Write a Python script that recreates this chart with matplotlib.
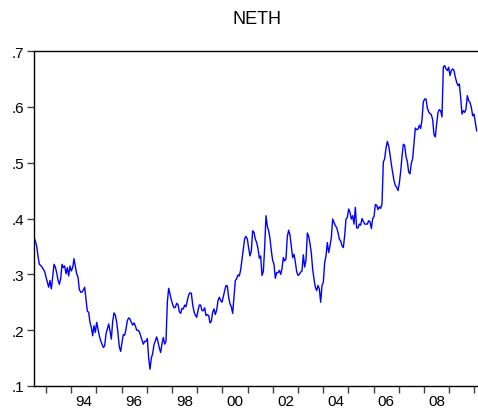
import numpy as np
import matplotlib
matplotlib.use("Agg")
import matplotlib.pyplot as plt
from matplotlib.ticker import FixedLocator, FixedFormatter

plt.rcParams['font.family'] = ['Liberation Sans', 'DejaVu Sans']

# NETH series, regular spacing (about 19 days) from mid-1992 to the end of 2009
neth = [
    # 1992 - 1994
    .366, .360, .351, .333, .318, .316, .313, .309, .305, .295, .286, .277,
    .289, .274, .295, .318, .313, .303, .290, .282, .292, .318, .312, .315,
    .301, .312, .297, .315, .306, .312, .328, .315, .301, .295, .273, .268,
    .268, .272, .277, .256, .234, .232,
    # 1994 - 1996
    .214, .205, .190, .208, .196, .214, .202, .190, .181, .175, .169, .172,
    .193, .202, .211, .199, .184, .215, .231, .227, .215, .194, .170, .162,
    .178, .192, .191, .202, .217, .222, .220, .214, .209, .213, .208, .200,
    .200, .197, .190, .182, .175, .180,
    # 1996 - 1999
    .180, .185, .150, .130, .150, .158, .174, .181, .188, .179, .168, .160,
    .176, .187, .175, .180, .250, .275, .265, .254, .246, .240, .241, .248,
    .246, .233, .230, .239, .238, .245, .242, .253, .263, .267, .266, .246,
    .233, .227, .223, .235, .245, .245,
    # 1999 - 2001
    .235, .235, .240, .226, .228, .226, .213, .216, .232, .238, .228, .236,
    .253, .259, .253, .250, .260, .271, .280, .279, .259, .247, .242, .230,
    .260, .289, .292, .299, .297, .308, .327, .347, .364, .368, .363, .347,
    .333, .342, .378, .375, .363, .357,
    # 2001 - 2003
    .346, .329, .333, .298, .305, .348, .405, .386, .378, .364, .342, .325,
    .318, .293, .303, .303, .307, .300, .310, .330, .324, .328, .368, .379,
    .370, .350, .330, .336, .322, .305, .298, .300, .304, .306, .335, .313,
    .325, .374, .368, .355, .338, .309,
    # 2003 - 2005
    .292, .277, .271, .280, .274, .250, .280, .286, .321, .333, .357, .339,
    .351, .366, .399, .393, .387, .384, .375, .363, .360, .351, .348, .369,
    .399, .402, .417, .411, .399, .405, .390, .420, .383, .383, .390, .388,
    .400, .395, .390, .390, .390, .396,
    # 2005 - 2008
    .394, .382, .400, .403, .425, .424, .416, .421, .418, .426, .501, .507,
    .526, .538, .530, .515, .497, .483, .468, .459, .456, .450, .463, .484,
    .511, .533, .531, .511, .502, .483, .480, .499, .507, .535, .562, .559,
    .560, .567, .561, .577, .609, .614,
    # 2008 - 2009
    .614, .598, .591, .588, .586, .577, .550, .546, .570, .590, .595, .593,
    .582, .671, .674, .668, .665, .671, .656, .665, .668, .665, .653, .644,
    .638, .641, .617, .587, .593, .590, .596, .620, .611, .608, .599, .584,
    .587, .572, .557,
]
start_year = 1992.524
step_year = 0.05291
years = start_year + step_year * np.arange(len(neth))

year_ticks = list(range(1993, 2011))
label_years = [1994, 1996, 1998, 2000, 2002, 2004, 2006, 2008]
x_labels = ["94", "96", "98", "00", "02", "04", "06", "08"]
y_ticks = [.1, .2, .3, .4, .5, .6, .7]
y_labels = [".1", ".2", ".3", ".4", ".5", ".6", ".7"]

fig = plt.figure(figsize=(4.78, 4.14), dpi=100)
ax = fig.add_axes([34 / 478, 27 / 414, 445 / 478, 335 / 414])

ax.plot(years, neth, color="#0000ff", linewidth=1.0)

ax.set_xlim(1992.524, 1992.524 + 445 / 25.2)
ax.set_ylim(0.1, 0.7)

# yearly tick marks, labels centred in the middle of every second year
ax.xaxis.set_major_locator(FixedLocator(year_ticks))
ax.xaxis.set_major_formatter(FixedFormatter([""] * len(year_ticks)))
ax.xaxis.set_minor_locator(FixedLocator([y + 0.5 for y in label_years]))
ax.xaxis.set_minor_formatter(FixedFormatter(x_labels))
ax.tick_params(axis="x", which="major", direction="out", length=5, width=1,
               color="#404040")
ax.tick_params(axis="x", which="minor", length=0, pad=6, labelsize=11)

ax.set_yticks(y_ticks)
ax.set_yticklabels(y_labels)
ax.tick_params(axis="y", direction="out", length=5, width=1, color="#404040",
               labelsize=11, pad=2)

for side in ["left", "bottom", "top", "right"]:
    ax.spines[side].set_linewidth(1.0)
    ax.spines[side].set_color("black")

ax.set_title("NETH", fontsize=13, pad=20)

fig.savefig("out.png", dpi=100)
